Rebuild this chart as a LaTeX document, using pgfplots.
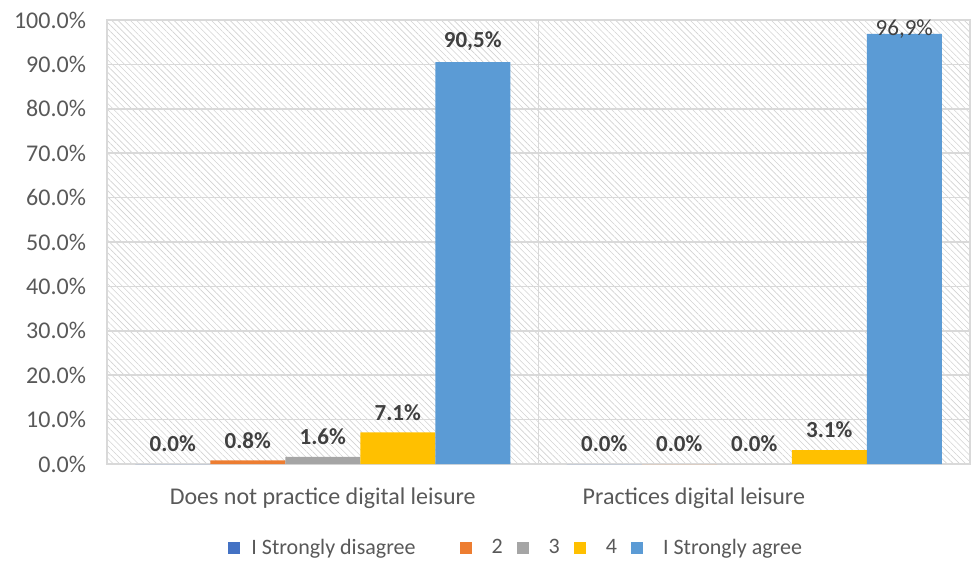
\documentclass[border=0pt]{standalone}
\usepackage{pgfplots}
\pgfplotsset{compat=1.18}
\usepackage{fontspec}
\setmainfont{Carlito}
\usetikzlibrary{patterns.meta}
\definecolor{cA}{HTML}{4472C4}
\definecolor{cB}{HTML}{ED7D31}
\definecolor{cC}{HTML}{A5A5A5}
\definecolor{cD}{HTML}{FFC000}
\definecolor{cE}{HTML}{5B9BD5}
\definecolor{txt}{HTML}{595959}
\definecolor{lbl}{HTML}{404040}
\definecolor{gridc}{HTML}{D9D9D9}
\begin{document}
\begin{tikzpicture}
\begin{axis}[
  at={(0,0)}, anchor=south west,
  scale only axis, width=431.5pt, height=222pt,
  ymin=0, ymax=100, xmin=-0.5, xmax=1.5,
  ybar=0pt, bar width=37.5pt,
  ytick={0,10,...,100},
  yticklabel={\pgfmathprintnumber[fixed,fixed zerofill,precision=1]{\tick}\%},
  /pgf/number format/assume math mode=true,
  yticklabel style={font=\fontsize{12}{14}\selectfont, text=txt, xshift=-7pt},
  xtick={0,0.86},
  xticklabels={Does not practice digital leisure, Practices digital leisure},
  xticklabel style={font=\fontsize{12}{14}\selectfont, text=txt, yshift=-4pt},
  extra x ticks={-0.5,0.5,1.5},
  extra x tick labels={},
  extra x tick style={grid=major, major tick length=5pt, tick style={draw=gridc, line width=0.8pt}, xtick pos=bottom, tick align=outside},
  major x tick style={draw=none},
  ymajorgrids, grid style={draw=gridc, line width=0.8pt},
  major y tick style={draw=none},
  axis line style={draw=gridc, line width=0.8pt},
  axis background/.style={pattern={Lines[angle=-45,distance=2.2pt,line width=0.3pt]}, pattern color=gray!35},
  nodes near coords,
  point meta=explicit symbolic,
  every node near coord/.append style={font=\fontsize{11.5}{13}\selectfont\bfseries, text=lbl, yshift=2.5pt},
  legend style={at={(0.473,-0.189)}, anchor=center, draw=none, font=\fontsize{11}{13}\selectfont, text=txt, legend columns=5,
    nodes={inner xsep=0pt},
    /tikz/every odd column/.append style={column sep=10pt},
    /tikz/every even column/.append style={column sep=7pt}},
  legend image code/.code={\fill[#1] (0pt,-3pt) rectangle (6pt,3pt);},
]
\addplot[fill=cA, draw=none] coordinates {(0,0) [0.0\%] (1,0) [0.0\%]};
\addplot[fill=cB, draw=none] coordinates {(0,0.8) [0.8\%] (1,0) [0.0\%]};
\addplot[fill=cC, draw=none] coordinates {(0,1.6) [1.6\%] (1,0) [0.0\%]};
\addplot[fill=cD, draw=none] coordinates {(0,7.1) [7.1\%] (1,3.1) [3.1\%]};
\addplot[fill=cE, draw=none] coordinates {(0,90.5) [{90,5\%}] (1,96.9) [{\smash{\raisebox{-7pt}{\mdseries 96,9\%}}}]};
\legend{\hspace*{-4.5pt}I Strongly disagree\hspace*{15pt}, 2, 3, 4, I Strongly agree}
\end{axis}
\pgfresetboundingbox
\path[use as bounding box] (-53.5pt,-49pt) rectangle (435pt,232pt);
\end{tikzpicture}
\end{document}
